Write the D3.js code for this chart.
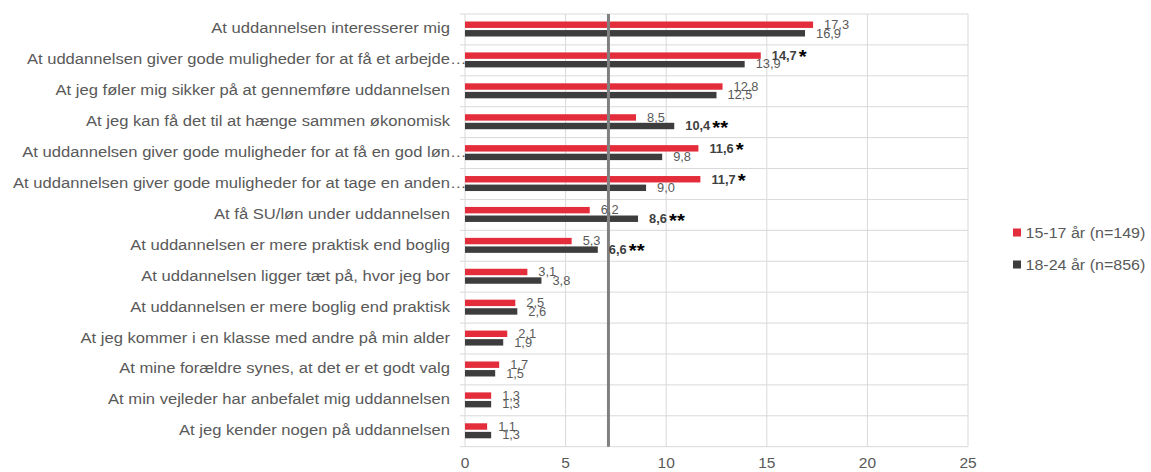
<!DOCTYPE html>
<html><head><meta charset="utf-8">
<script src="https://cdn.jsdelivr.net/npm/d3@7"></script>
<style>body{margin:0;background:#fff}svg{display:block;font-family:"Liberation Sans",Arial,sans-serif}</style>
</head><body><svg id="c" width="1151" height="472"></svg>
<script>
const categories = [
  "At uddannelsen interesserer mig",
  "At uddannelsen giver gode muligheder for at få et arbejde…",
  "At jeg føler mig sikker på at gennemføre uddannelsen",
  "At jeg kan få det til at hænge sammen økonomisk",
  "At uddannelsen giver gode muligheder for at få en god løn…",
  "At uddannelsen giver gode muligheder for at tage en anden…",
  "At få SU/løn under uddannelsen",
  "At uddannelsen er mere praktisk end boglig",
  "At uddannelsen ligger tæt på, hvor jeg bor",
  "At uddannelsen er mere boglig end praktisk",
  "At jeg kommer i en klasse med andre på min alder",
  "At mine forældre synes, at det er et godt valg",
  "At min vejleder har anbefalet mig uddannelsen",
  "At jeg kender nogen på uddannelsen"
];
const seriesNames = ["15-17 år (n=149)", "18-24 år (n=856)"];
const values1517 = [17.3, 14.7, 12.8, 8.5, 11.6, 11.7, 6.2, 5.3, 3.1, 2.5, 2.1, 1.7, 1.3, 1.1];
const values1824 = [16.9, 13.9, 12.5, 10.4, 9.8, 9.0, 8.6, 6.6, 3.8, 2.6, 1.9, 1.5, 1.3, 1.3];
const marks1517 = ["", "*", "", "", "*", "*", "", "", "", "", "", "", "", ""];
const marks1824 = ["", "", "", "**", "", "", "**", "**", "", "", "", "", "", ""];
const xTicks = [0, 5, 10, 15, 20, 25];
const referenceValue = 7.13;
const colors = ["#e32d3b", "#3d3d3d"];

(function () {
const svg = d3.select("#c");
const SX = 1.07;
const L = 465, R = 968, T = 14, B = 446.7;
const x = d3.scaleLinear().domain([0, 25]).range([L, R]);
const y = d3.scaleBand().domain(categories).range([T, B]).padding(0);
const inner = d3.scaleBand().domain([0, 1]).range([7.5, 22.5]).paddingInner(0.25);
const fmt = v => d3.format(".1f")(v).replace(".", ",");
const txt = (g, px, py) => g.append("text").attr("transform", `translate(${px},${py}) scale(${SX},1)`);

const grid = svg.append("g");
grid.selectAll("line.v").data(xTicks).join("line")
  .attr("x1", d => x(d)).attr("x2", d => x(d)).attr("y1", T).attr("y2", B)
  .attr("stroke", "#d9d9d9").attr("stroke-width", 1);
const bounds = categories.map(c => y(c)).concat([B]);
grid.selectAll("line.h").data(bounds).join("line")
  .attr("x1", L - 5).attr("x2", R).attr("y1", d => d).attr("y2", d => d)
  .attr("stroke", "#d9d9d9").attr("stroke-width", 1);

const series = [values1517, values1824];
const marks = [marks1517, marks1824];
series.forEach((vals, si) => {
  svg.append("g").selectAll("rect").data(vals).join("rect")
    .attr("x", x(0)).attr("width", d => x(d) - x(0))
    .attr("y", (d, i) => y(categories[i]) + inner(si))
    .attr("height", inner.bandwidth())
    .attr("fill", colors[si]);
});

svg.append("line").attr("x1", x(referenceValue)).attr("x2", x(referenceValue))
  .attr("y1", T).attr("y2", B).attr("stroke", "#808080").attr("stroke-width", 3);

series.forEach((vals, si) => {
  const g = svg.append("g");
  vals.forEach((v, i) => {
    const m = marks[si][i];
    const t = txt(g, x(v) + 11, y(categories[i]) + inner(si) + inner.bandwidth() / 2 + 4.3)
      .attr("font-size", 12)
      .attr("fill", m ? "#404040" : "#595959")
      .attr("font-weight", m ? "bold" : "normal")
      .text(fmt(v));
    if (m) {
      t.append("tspan").attr("font-size", 19).attr("font-weight", "bold").attr("fill", "#000")
        .attr("dx", 2).attr("dy", 3.5).text(m);
    }
  });
});

const lab = svg.append("g").attr("font-size", 15.5).attr("fill", "#595959");
categories.forEach(c => {
  const cy = y(c) + y.bandwidth() / 2 + 4;
  const trunc = c.endsWith("…");
  txt(lab, 450, cy).attr("text-anchor", "end").text(trunc ? c.slice(0, -1) : c);
  if (trunc) txt(lab, 450, cy).text("…");
});

const ax = svg.append("g").attr("font-size", 14.5).attr("fill", "#595959");
xTicks.forEach(d => txt(ax, x(d), 467.5).attr("text-anchor", "middle").text(d));

const lg = svg.append("g");
seriesNames.forEach((n, i) => {
  const ly = 232.5 + i * 32;
  lg.append("rect").attr("x", 1013).attr("y", ly - 4).attr("width", 8).attr("height", 8).attr("fill", colors[i]);
  txt(lg, 1025.5, ly + 5).attr("font-size", 15).attr("fill", "#595959").text(n);
});
})();
</script></body></html>
